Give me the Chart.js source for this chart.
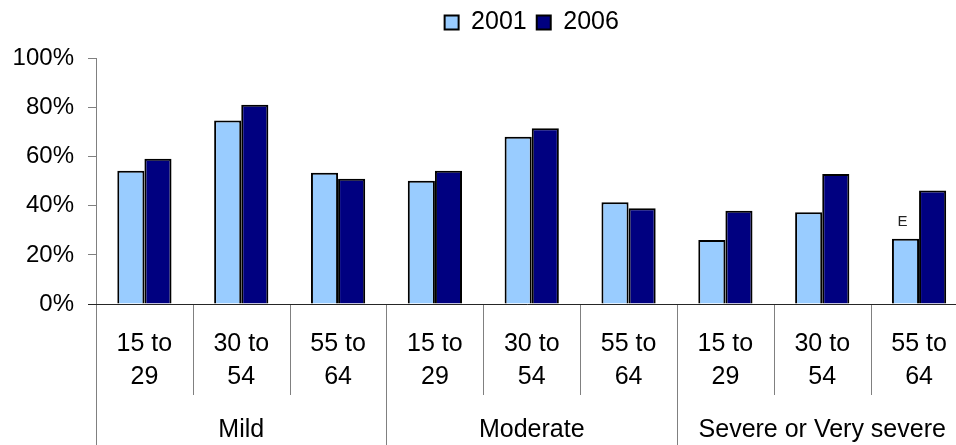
<!DOCTYPE html>
<html>
<head>
<meta charset="utf-8">
<script src="https://cdn.jsdelivr.net/npm/chart.js@4/dist/chart.umd.min.js"></script>
<style>
  html, body { margin: 0; padding: 0; background: #fff; overflow: hidden; }
  #wrap { width: 970px; height: 445px; }
</style>
</head>
<body>
<div id="wrap"><canvas id="c" width="970" height="445"></canvas></div>
<script>
// Age bands within each severity group
const ageLabels = [
  ['15 to', '29'], ['30 to', '54'], ['55 to', '64'],
  ['15 to', '29'], ['30 to', '54'], ['55 to', '64'],
  ['15 to', '29'], ['30 to', '54'], ['55 to', '64']
];
const severityLabels = ['Mild', 'Moderate', 'Severe or Very severe'];
const seriesNames = ['2001', '2006'];
const values2001 = [54.3, 74.7, 53.5, 50.2, 68.1, 41.4, 26.1, 37.4, 26.6];
const values2006 = [59.2, 81.2, 51.0, 54.3, 71.6, 39.0, 38.0, 53.0, 46.2];
// Quality flags printed above the 2001 bars ('' = none)
const flags2001 = ['', '', '', '', '', '', '', '', 'E'];
const yTicks = [0, 20, 40, 60, 80, 100];

const AXIS_GRAY = '#808080';
const BASE_DARK = '#262626';
const FONT = 'Arial, "Liberation Sans", sans-serif';

// Empty layout box that keeps a gap between the legend and the plot
const legendGap = {
  id: 'legendGap',
  beforeInit(chart) {
    Chart.layouts.addBox(chart, {
      position: 'top',
      weight: 0,
      fullSize: false,
      options: {},
      isHorizontal() { return true; },
      update(maxWidth) { this.width = maxWidth; this.height = 13.5; },
      draw() {}
    });
  }
};

// Separator lines between age bands (short) and severity groups (full height)
const separators = {
  id: 'separators',
  afterDraw(chart) {
    const xs = chart.scales.x;
    const area = chart.chartArea;
    const ctx = chart.ctx;
    const step = xs.getPixelForValue(1) - xs.getPixelForValue(0);
    ctx.save();
    ctx.strokeStyle = AXIS_GRAY;
    ctx.lineWidth = 1;
    for (let i = 0; i < ageLabels.length; i++) {
      const x = Math.round(xs.getPixelForValue(i) - step / 2) + 0.5;
      const bottom = (i % 3 === 0) ? chart.height : xs.bottom;
      ctx.beginPath();
      ctx.moveTo(x, area.bottom + 1);
      ctx.lineTo(x, bottom);
      ctx.stroke();
    }
    // baseline, including the stub left of the value axis
    ctx.strokeStyle = BASE_DARK;
    ctx.beginPath();
    ctx.moveTo(area.left - 8, Math.round(area.bottom) + 0.5);
    ctx.lineTo(area.right, Math.round(area.bottom) + 0.5);
    ctx.stroke();
    ctx.restore();
  }
};

// Small flag text above flagged bars
const flagLabels = {
  id: 'flagLabels',
  afterDatasetsDraw(chart) {
    const meta = chart.getDatasetMeta(0);
    const ctx = chart.ctx;
    ctx.save();
    ctx.font = '15px ' + FONT;
    ctx.fillStyle = '#222';
    ctx.textAlign = 'center';
    ctx.textBaseline = 'bottom';
    meta.data.forEach((bar, i) => {
      if (flags2001[i]) ctx.fillText(flags2001[i], bar.x - 3, bar.y - 9);
    });
    ctx.restore();
  }
};

new Chart(document.getElementById('c'), {
  type: 'bar',
  data: {
    labels: ageLabels,
    datasets: [
      { label: seriesNames[0], data: values2001, backgroundColor: '#99ccff', borderColor: '#000', borderWidth: 2 },
      { label: seriesNames[1], data: values2006, backgroundColor: '#000080', borderColor: '#000', borderWidth: 2 }
    ]
  },
  options: {
    responsive: false,
    animation: false,
    events: [],
    layout: { padding: { left: 0, right: 0, top: 0, bottom: 0 } },
    datasets: { bar: { categoryPercentage: 0.56, barPercentage: 1.0 } },
    plugins: {
      legend: {
        position: 'top',
        fullSize: false,
        labels: {
          color: '#000',
          font: { family: FONT, size: 25 },
          boxWidth: 14,
          boxHeight: 14,
          padding: 10
        }
      },
      tooltip: { enabled: false }
    },
    scales: {
      y: {
        min: 0,
        max: 100,
        afterBuildTicks(scale) { scale.ticks = yTicks.map(v => ({ value: v })); },
        afterFit(scale) { scale.width = 96; },
        ticks: {
          color: '#000',
          font: { family: FONT, size: 24 },
          padding: 14,
          callback: v => v + '%'
        },
        grid: { display: true, drawOnChartArea: false, drawTicks: true, tickLength: 8, color: AXIS_GRAY, tickColor: AXIS_GRAY },
        border: { display: true, color: AXIS_GRAY, width: 1 }
      },
      x: {
        position: 'bottom',
        afterFit(scale) { scale.height = 91; },
        ticks: {
          color: '#000',
          font: { family: FONT, size: 25, lineHeight: 1.34 },
          padding: 23,
          maxRotation: 0,
          autoSkip: false
        },
        grid: { display: false, drawTicks: false },
        border: { display: false }
      },
      x2: {
        type: 'category',
        position: 'bottom',
        labels: severityLabels,
        afterFit(scale) { scale.height = 50; },
        ticks: {
          color: '#000',
          font: { family: FONT, size: 25, lineHeight: 1.34 },
          padding: 18,
          maxRotation: 0,
          autoSkip: false
        },
        grid: { display: false, drawTicks: false },
        border: { display: false }
      }
    }
  },
  plugins: [legendGap, separators, flagLabels]
});
</script>
</body>
</html>
